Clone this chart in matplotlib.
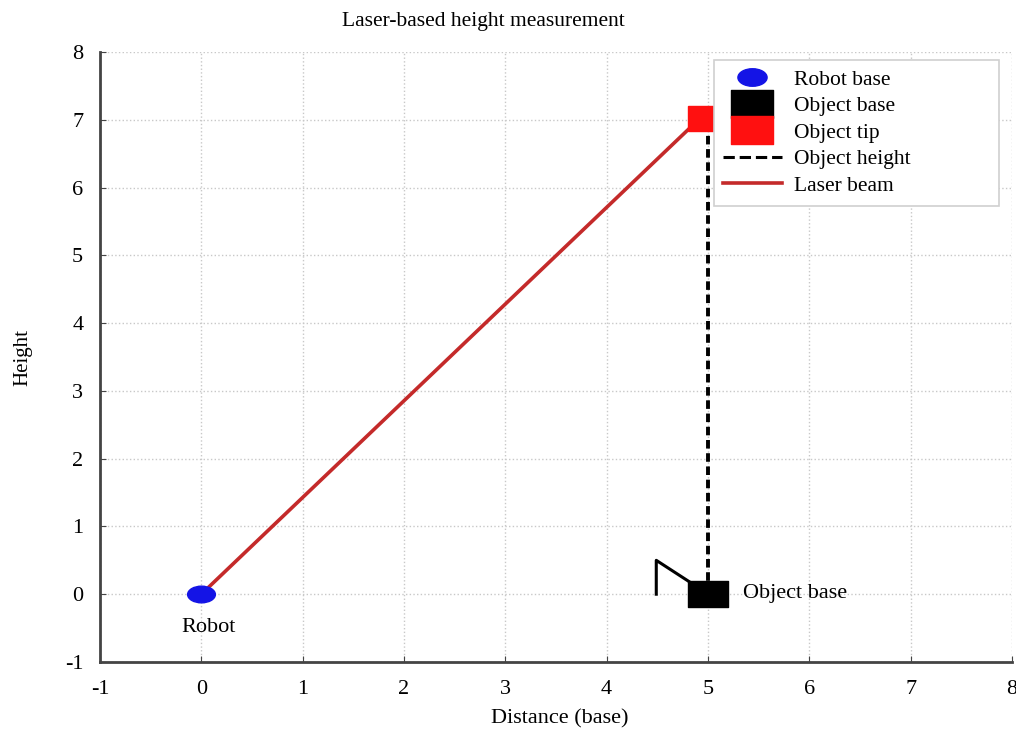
import matplotlib.pyplot as plt
from matplotlib.lines import Line2D
from matplotlib.path import Path
from matplotlib.transforms import Affine2D

# scene points (data units)
robot = (0.0, 0.0)
obj_base = (5.0, 0.0)
obj_tip = (4.92, 7.02)
flag_x = [4.49, 4.49, 4.82]
flag_y = [0.0, 0.5, 0.18]
xticks = [-1, 0, 1, 2, 3, 4, 5, 6, 7, 8]
yticks = [-1, 0, 1, 2, 3, 4, 5, 6, 7, 8]

plt.rcParams['font.family'] = ['Liberation Serif', 'DejaVu Serif']
plt.rcParams['axes.unicode_minus'] = False

# custom markers: flat ellipse and wide rectangle
ellipse = Path.unit_circle().transformed(Affine2D().scale(1, 0.6))
rect = Path([(-1, -0.67), (1, -0.67), (1, 0.67), (-1, 0.67), (-1, -0.67)], closed=True)

laser_col = '#c42a2a'
fig = plt.figure(figsize=(10.16, 7.37), dpi=100)
ax = fig.add_axes([0.0984, 0.1018, 0.8976, 0.8276])

ax.grid(True, ls=':', color='#c8c8c8', lw=1.0)
ax.set_axisbelow(True)

ax.plot([robot[0], obj_tip[0]], [robot[1], obj_tip[1]], color=laser_col, lw=2.6, zorder=3)
ax.plot([obj_base[0], obj_base[0]], [obj_base[1], obj_tip[1]], color='black', ls='--', lw=2.8,
        dashes=(2.2, 1.2), zorder=3)
ax.plot(flag_x, flag_y, color='black', lw=2.2, zorder=3)
ax.plot(*robot, marker=ellipse, markersize=20, color='#1414e6', ls='none', zorder=4)
ax.plot(*obj_base, marker=rect, markersize=29, color='black', ls='none', zorder=4)
ax.plot(*obj_tip, marker='s', markersize=18, color='#ff1010', ls='none', zorder=4)

ax.text(0.07, -0.49, 'Robot', ha='center', va='center', fontsize=16)
ax.text(5.35, 0.01, 'Object base', ha='left', va='center', fontsize=16)

ax.set_xlim(-1, 8)
ax.set_ylim(-1, 8)
ax.set_xticks(xticks)
ax.set_yticks(yticks)
ax.tick_params(direction='in', length=4, labelsize=16, pad=13, color='#444444')
ax.tick_params(axis='y', pad=12)
for s in ['top', 'right']:
    ax.spines[s].set_visible(False)
for s in ['left', 'bottom']:
    ax.spines[s].set_color('#444444')
    ax.spines[s].set_linewidth(2)

ax.set_title('Laser-based height measurement', fontsize=15.5, x=0.42, pad=19)
ax.set_xlabel('Distance (base)', fontsize=16)
ax.set_ylabel('Height', fontsize=15)
ax.xaxis.set_label_coords(0.504, -0.078)
ax.yaxis.set_label_coords(-0.074, 0.5)

handles = [
    Line2D([], [], marker=ellipse, markersize=21, color='#1414e6', ls='none'),
    Line2D([], [], marker=rect, markersize=30, color='black', ls='none'),
    Line2D([], [], marker=rect, markersize=30, color='#ff1010', ls='none'),
    Line2D([], [], color='black', ls='--', lw=2.2),
    Line2D([], [], color=laser_col, lw=2.6),
]
labels = ['Robot base', 'Object base', 'Object tip', 'Object height', 'Laser beam']
leg = ax.legend(handles, labels, loc='upper right', bbox_to_anchor=(0.673, 0.5, 0.313, 0.487),
                mode='expand', fontsize=15.5, handlelength=2.7, labelspacing=0.3,
                borderpad=0.45, handletextpad=0.6, borderaxespad=0, fancybox=False,
                framealpha=1, edgecolor='#d0d0d0')
leg.get_frame().set_linewidth(1.2)

fig.savefig('out.png', dpi=100)
